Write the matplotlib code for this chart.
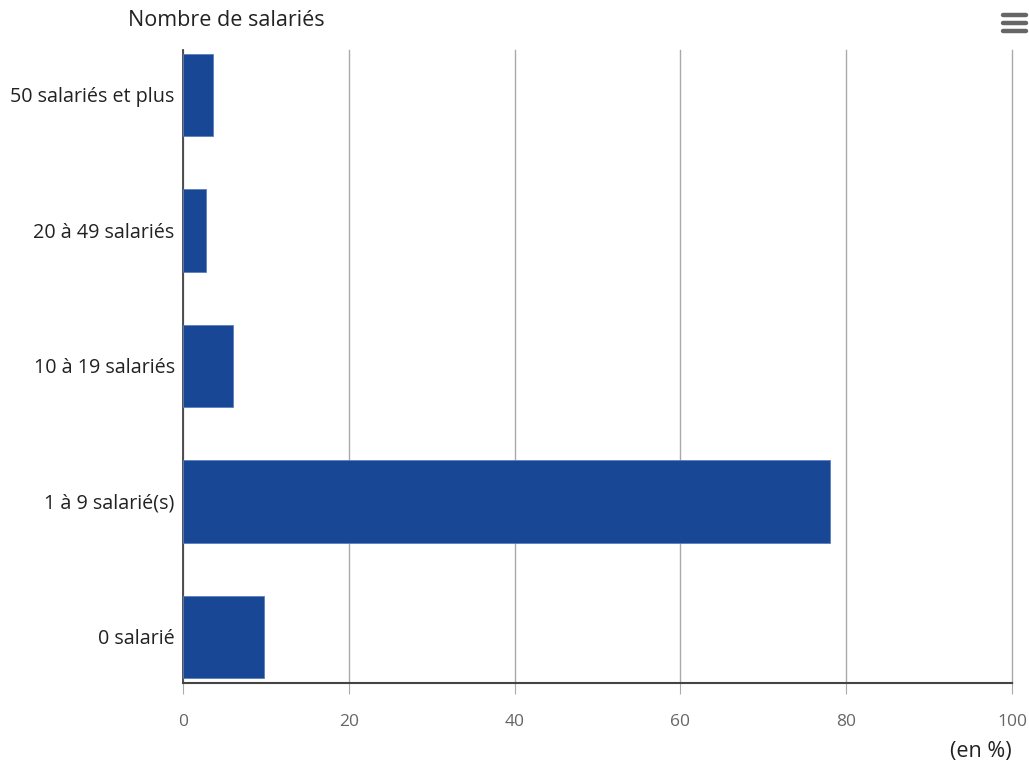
import matplotlib
matplotlib.use("Agg")
import matplotlib.pyplot as plt
from matplotlib.lines import Line2D

plt.rcParams['font.family'] = ['Open Sans', 'DejaVu Sans']

# data (bottom to top)
categories = ["0 salarié", "1 à 9 salarié(s)", "10 à 19 salariés", "20 à 49 salariés", "50 salariés et plus"]
values = [9.8, 78.0, 6.0, 2.8, 3.6]
xticks = [0, 20, 40, 60, 80, 100]

fig = plt.figure(figsize=(10.29, 7.65), dpi=100)
ax = fig.add_axes([183/1029, 1 - 683/765, (1012 - 183)/1029, (683 - 50)/765])

ax.barh(range(len(categories)), values, height=0.61, color='#184895',
        edgecolor='#5a7fc0', linewidth=0.6, zorder=3)

ax.set_xlim(0, 100)
ax.set_ylim(-0.34, 4.332)
ax.set_xticks(xticks)
ax.set_xticklabels([str(t) for t in xticks])
ax.set_yticks(range(len(categories)))
ax.set_yticklabels(categories)

ax.grid(axis='x', color='#aaaaaa', linewidth=1, zorder=0)
for gl in ax.get_xgridlines():
    gl.set_clip_on(False)
for s in ['top', 'right']:
    ax.spines[s].set_visible(False)
ax.spines['bottom'].set_color('#444444')
ax.spines['bottom'].set_linewidth(1.5)
ax.spines['left'].set_color('#444444')
ax.spines['left'].set_linewidth(1.3)

ax.tick_params(axis='y', length=0, pad=6, labelsize=14.2, labelcolor='#222222')
ax.tick_params(axis='x', length=8, color='#aaaaaa', pad=14, labelsize=12.5, labelcolor='#666666')

fig.text(128/1029, 1 - 21/765, "Nombre de salariés", fontsize=15.5, color='#222222',
         ha='left', va='center')
fig.text(1012/1029, 1 - 752/765, "(en %)", fontsize=15.5, color='#222222',
         ha='right', va='center')

# menu icon
for yy in [15, 23, 31]:
    fig.add_artist(Line2D([1003/1029, 1026/1029], [1 - yy/765, 1 - yy/765],
                          color='#666666', linewidth=3.2, solid_capstyle='round'))

fig.savefig("out.png", dpi=100)
